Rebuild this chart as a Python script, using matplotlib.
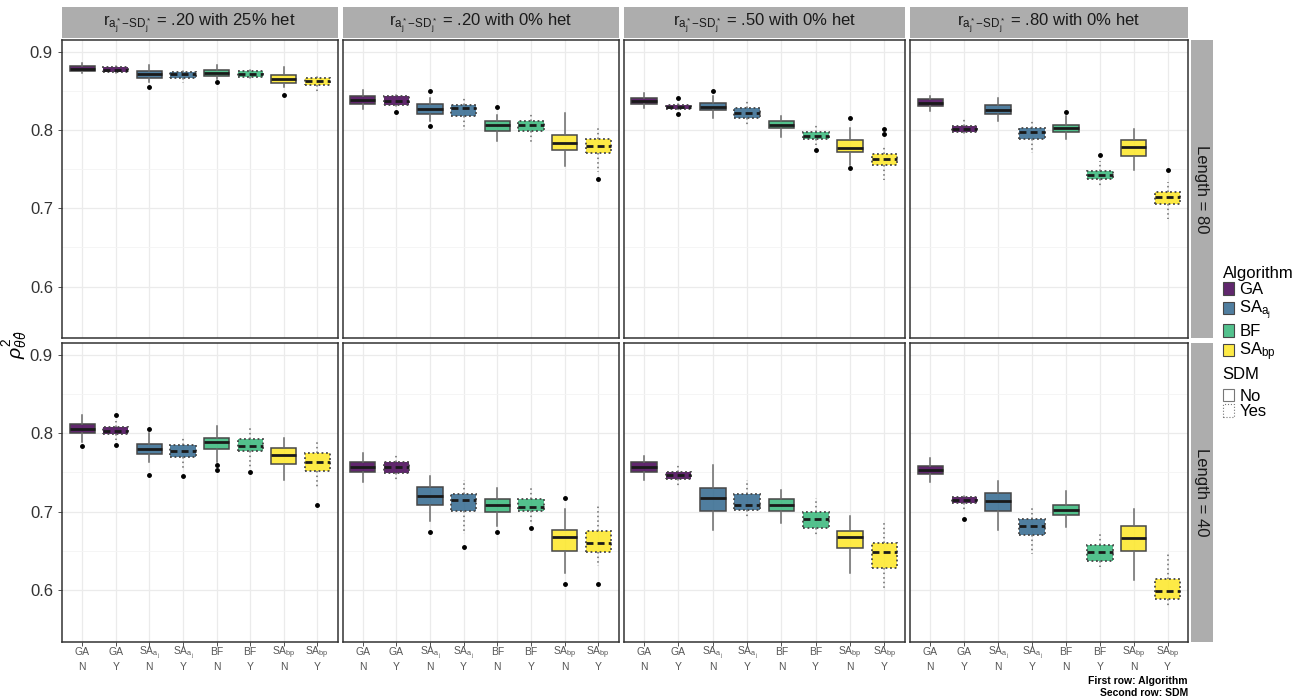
import matplotlib
matplotlib.use("Agg")
import matplotlib.pyplot as plt
from matplotlib.patches import Patch
from matplotlib.colors import to_rgb
from matplotlib.transforms import blended_transform_factory

plt.rcParams['font.family'] = ['Liberation Sans', 'DejaVu Sans']
plt.rcParams['mathtext.fontset'] = 'custom'
plt.rcParams['mathtext.rm'] = 'Liberation Sans'
plt.rcParams['mathtext.it'] = 'Liberation Sans:italic'
plt.rcParams['mathtext.bf'] = 'Liberation Sans:bold'

# facets
col_titles = [r'$\mathrm{r}_{\mathrm{a_j^*\!-\!SD_j^*}}$ = .20 with 25% het',
              r'$\mathrm{r}_{\mathrm{a_j^*\!-\!SD_j^*}}$ = .20 with 0% het',
              r'$\mathrm{r}_{\mathrm{a_j^*\!-\!SD_j^*}}$ = .50 with 0% het',
              r'$\mathrm{r}_{\mathrm{a_j^*\!-\!SD_j^*}}$ = .80 with 0% het']
row_titles = ['Length = 80', 'Length = 40']
algorithms = ['GA', r'SA$_{\mathrm{a_j}}$', 'BF', r'SA$_{\mathrm{bp}}$']
sdm = ['N', 'Y']
tick_algo = [a for a in algorithms for s in sdm]
tick_sdm = [s for a in algorithms for s in sdm]
algo_colors = ['#440154', '#31688E', '#35B779', '#FDE725']

# ---- Length = 80 (box stats per facet, 8 boxes: GA N, GA Y, SAaj N, SAaj Y, BF N, BF Y, SAbp N, SAbp Y)
l80_lo = [[.873, .871, .861, .860, .865, .865, .855, .849],
          [.827, .828, .811, .800, .786, .785, .754, .746],
          [.828, .826, .816, .805, .791, .781, .755, .736],
          [.824, .794, .812, .771, .788, .728, .749, .687]]
l80_q1 = [[.875, .874, .867, .866, .869, .868, .860, .858],
          [.833, .832, .821, .818, .799, .799, .774, .771],
          [.833, .827, .825, .815, .802, .788, .772, .755],
          [.831, .797, .821, .789, .797, .738, .767, .706]]
l80_med = [[.878, .877, .872, .871, .873, .872, .865, .862],
           [.838, .837, .827, .828, .806, .806, .784, .780],
           [.837, .830, .830, .822, .806, .792, .777, .763],
           [.835, .801, .826, .797, .802, .743, .778, .714]]
l80_q3 = [[.882, .880, .876, .874, .877, .875, .870, .867],
          [.843, .843, .833, .832, .812, .812, .794, .788],
          [.841, .832, .834, .828, .811, .797, .787, .770],
          [.840, .805, .832, .802, .806, .748, .787, .721]]
l80_hi = [[.886, .883, .883, .878, .883, .879, .880, .872],
          [.851, .846, .841, .843, .819, .821, .822, .805],
          [.847, .836, .843, .837, .818, .806, .803, .781],
          [.844, .816, .841, .812, .818, .760, .801, .734]]
l80_out = [[[], [], [.855], [], [.861], [], [.845], []],
           [[], [.823], [.850, .805], [], [.830], [], [], [.738]],
           [[], [.841, .820], [.850], [], [], [.775], [.816, .751], [.801, .795]],
           [[], [], [], [], [.823], [.768], [], [.749]]]

# ---- Length = 40
l40_lo = [[.789, .791, .763, .753, .764, .757, .740, .732],
          [.738, .740, .688, .672, .682, .686, .621, .630],
          [.741, .731, .677, .691, .686, .669, .622, .603],
          [.738, .702, .677, .646, .681, .629, .613, .579]]
l40_q1 = [[.801, .799, .774, .770, .780, .777, .761, .752],
          [.751, .749, .708, .701, .700, .701, .650, .649],
          [.751, .742, .701, .702, .701, .679, .653, .628],
          [.748, .711, .701, .670, .696, .637, .650, .588]]
l40_med = [[.806, .803, .780, .777, .789, .784, .772, .763],
           [.757, .757, .720, .715, .708, .706, .667, .660],
           [.757, .747, .717, .709, .709, .690, .667, .648],
           [.753, .715, .714, .682, .702, .648, .666, .599]]
l40_q3 = [[.812, .808, .786, .785, .794, .793, .781, .775],
          [.763, .764, .731, .723, .716, .716, .677, .675],
          [.764, .751, .730, .722, .716, .699, .675, .660],
          [.758, .719, .724, .691, .709, .657, .682, .614]]
l40_hi = [[.824, .816, .800, .796, .809, .809, .794, .791],
          [.775, .772, .746, .741, .730, .733, .703, .707],
          [.771, .760, .760, .740, .727, .717, .694, .686],
          [.768, .723, .739, .707, .726, .673, .703, .647]]
l40_out = [[[.784], [.824, .785], [.806, .747], [.746], [.759, .753], [.750], [], [.709]],
           [[], [], [.674], [.655], [.674], [.679], [.717, .608], [.608]],
           [[], [], [], [], [], [], [], []],
           [[], [.691], [], [], [], [], [], []]]

rows = [(l80_lo, l80_q1, l80_med, l80_q3, l80_hi, l80_out),
        (l40_lo, l40_q1, l40_med, l40_q3, l40_hi, l40_out)]

W, H = 1299, 700
fig = plt.figure(figsize=(W / 100, H / 100), dpi=100)


def px(x0, y0, x1, y1):
    return [x0 / W, 1 - y1 / H, (x1 - x0) / W, (y1 - y0) / H]


col_x = [(62, 337.5), (342.5, 618.5), (623.5, 905), (910, 1188)]
row_y = [(40, 338.3), (343.3, 641.6)]
edge_col = '#474747'
whisk_col = '#6b6b6b'

for r, (lo, q1, med, q3, hi, out) in enumerate(rows):
    for c in range(4):
        ax = fig.add_axes(px(col_x[c][0], row_y[r][0], col_x[c][1], row_y[r][1]))
        stats = [dict(whislo=lo[c][i], q1=q1[c][i], med=med[c][i], q3=q3[c][i],
                      whishi=hi[c][i], fliers=out[c][i]) for i in range(8)]
        bp = ax.bxp(stats, positions=range(1, 9), widths=0.75, patch_artist=True,
                    showcaps=False,
                    flierprops=dict(marker='o', markersize=2.5, markerfacecolor='black',
                                    markeredgecolor='black', linestyle='none'),
                    boxprops=dict(edgecolor=edge_col, linewidth=1.1),
                    whiskerprops=dict(color=whisk_col, linewidth=1.1),
                    medianprops=dict(color='#1a1a1a', linewidth=2.0))
        for i, box in enumerate(bp['boxes']):
            box.set_facecolor((*to_rgb(algo_colors[i // 2]), 0.85))
            if i % 2 == 1:
                box.set_linestyle((0, (1, 1.5)))
                box.set_linewidth(1.3)
                bp['whiskers'][2 * i].set_linestyle((0, (1, 2)))
                bp['whiskers'][2 * i + 1].set_linestyle((0, (1, 2)))
                bp['medians'][i].set_linestyle((0, (2.5, 1.5)))
        ax.set_xlim(0.4, 8.6)
        ax.set_ylim(0.534, 0.915)
        ax.set_yticks([0.6, 0.7, 0.8, 0.9])
        ax.set_yticks([0.65, 0.75, 0.85], minor=True)
        ax.set_axisbelow(True)
        ax.grid(which='major', color='#ebebeb', linewidth=0.9)
        ax.grid(which='minor', axis='y', color='#f4f4f4', linewidth=0.6)
        for s in ax.spines.values():
            s.set_color('#333333')
            s.set_linewidth(1.1)
        ax.tick_params(which='minor', length=0)
        ax.tick_params(which='major', length=3, color='#333333', width=0.6)
        if c == 0:
            ax.set_yticklabels(['0.6', '0.7', '0.8', '0.9'], fontsize=12, color='#333333')
        else:
            ax.set_yticklabels([])
            ax.tick_params(axis='y', length=0)
        ax.set_xticks(range(1, 9))
        ax.set_xticklabels([])
        if r == 1:
            # two rows of category labels: algorithm, then SDM
            tr = blended_transform_factory(ax.transData, fig.transFigure)
            for i in range(8):
                ax.text(i + 1, 1 - 655 / H, tick_algo[i], transform=tr, ha='center',
                        va='baseline', fontsize=7.5, color='#555555')
                ax.text(i + 1, 1 - 670 / H, tick_sdm[i], transform=tr, ha='center',
                        va='baseline', fontsize=7.5, color='#555555')
        else:
            ax.tick_params(axis='x', length=0)

# strips
for c in range(4):
    sax = fig.add_axes(px(col_x[c][0], 7, col_x[c][1], 38))
    sax.set_facecolor('#adadad')
    sax.set_xticks([]); sax.set_yticks([])
    for s in sax.spines.values():
        s.set_visible(False)
    sax.text(0.5, 0.45, col_titles[c], ha='center', va='center', fontsize=12, color='#1a1a1a',
             transform=sax.transAxes)
for r in range(2):
    sax = fig.add_axes(px(1191, row_y[r][0], 1213, row_y[r][1]))
    sax.set_facecolor('#adadad')
    sax.set_xticks([]); sax.set_yticks([])
    for s in sax.spines.values():
        s.set_visible(False)
    sax.text(0.5, 0.5, row_titles[r], ha='center', va='center', fontsize=12, color='#1a1a1a',
             rotation=-90, transform=sax.transAxes)

fig.text(15 / W, 1 - 345 / H, r'$\rho^2_{\theta\hat{\theta}}$', rotation=90, fontsize=14,
         ha='center', va='center')

# legends
algo_handles = [Patch(facecolor=(*to_rgb(col), 0.85), edgecolor=edge_col, linewidth=0.8)
                for col in algo_colors]
leg1 = fig.legend(algo_handles, algorithms, title='Algorithm', loc='upper left',
                  bbox_to_anchor=(1216 / W, 1 - 259 / H), frameon=False, fontsize=12,
                  title_fontsize=12, handlelength=0.7, handleheight=0.8, handletextpad=0.3,
                  labelspacing=0.1, alignment='left', borderaxespad=0)
sdm_handles = [Patch(facecolor='white', edgecolor='#777777', linewidth=0.8),
               Patch(facecolor='white', edgecolor='#777777', linewidth=0.8, linestyle=':')]
leg2 = fig.legend(sdm_handles, ['No', 'Yes'], title='SDM', loc='upper left',
                  bbox_to_anchor=(1216 / W, 1 - 360 / H), frameon=False, fontsize=12,
                  title_fontsize=12, handlelength=0.7, handleheight=0.8, handletextpad=0.3,
                  labelspacing=0.0, alignment='left', borderaxespad=0)
leg2._legend_box.sep = 5

fig.text(1188 / W, 1 - 681 / H, 'First row: Algorithm', ha='right', va='center',
         fontsize=7.5, fontweight='bold')
fig.text(1188 / W, 1 - 693 / H, 'Second row: SDM', ha='right', va='center',
         fontsize=7.5, fontweight='bold')

fig.savefig('out.png', dpi=100)
